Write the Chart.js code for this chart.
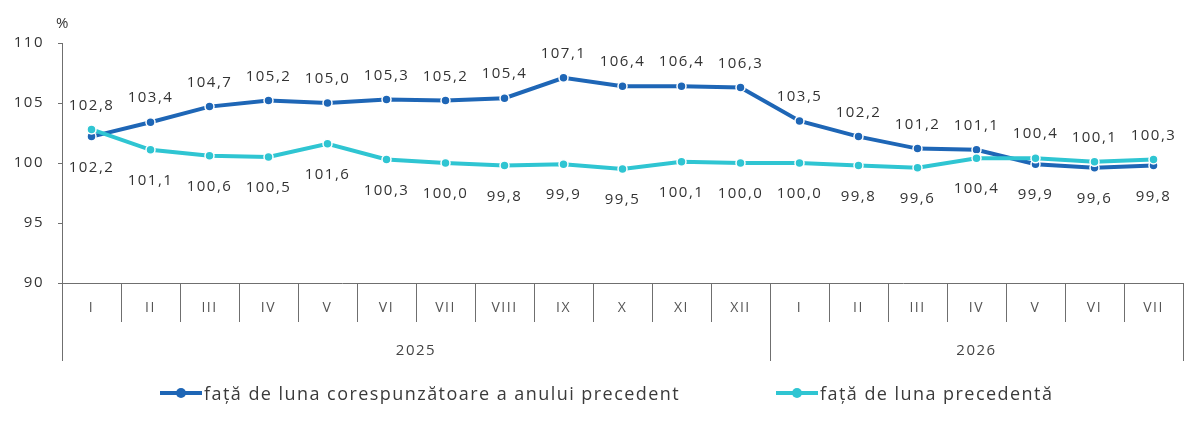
<!DOCTYPE html>
<html lang="ro">
<head>
<meta charset="utf-8">
<title>Indicii prețurilor de consum</title>
<script src="https://cdn.jsdelivr.net/npm/chart.js@4.4.1/dist/chart.umd.min.js"></script>
<style>
  html, body { margin: 0; padding: 0; background: #fff; }
  .wrap { position: relative; width: 1200px; height: 421px; }
  .legend { position: absolute; top: 380px; left: 0; width: 1200px; height: 26px;
            font: 18px "Open Sans", sans-serif; color: #3a3a3a; letter-spacing: 1.45px; }
  .item { position: absolute; top: 0; line-height: 26px; white-space: nowrap; }
  .mark { position: absolute; top: 11px; left: 0; width: 42px; height: 4px; }
  .mark i { position: absolute; left: 16px; top: -3px; width: 10px; height: 10px; border-radius: 50%; }
  .item span.t { margin-left: 44px; }
</style>
</head>
<body>
<div class="wrap">
  <canvas id="cpiChart" width="1200" height="421"></canvas>
  <div class="legend" id="legend"></div>
</div>
<script>
// ===== DATA =====
const months = ['I','II','III','IV','V','VI','VII','VIII','IX','X','XI','XII','I','II','III','IV','V','VI','VII'];
const years = ['2025', '2026'];
const monthsPerYear = [12, 7];
const yoyValues = [102.2,103.4,104.7,105.2,105.0,105.3,105.2,105.4,107.1,106.4,106.4,106.3,103.5,102.2,101.2,101.1,99.9,99.6,99.8];
const momValues = [102.8,101.1,100.6,100.5,101.6,100.3,100.0,99.8,99.9,99.5,100.1,100.0,100.0,99.8,99.6,100.4,100.4,100.1,100.3];
const seriesNames = ['față de luna corespunzătoare a anului precedent', 'față de luna precedentă'];
const yMin = 90, yMax = 110, yStep = 5;
const unitLabel = '%';

const BLUE = '#1e66b6';
const CYAN = '#2fc5d2';
const TXT = '#333333';

// ===== PLUGINS =====
const letterSpacing = {
  id: 'letterSpacing',
  beforeDraw(chart) { chart.ctx.letterSpacing = '1.5px'; }
};

// data labels: the higher series of the two gets its label above, the lower one below
const pointLabels = {
  id: 'pointLabels',
  afterDatasetsDraw(chart) {
    const ctx = chart.ctx;
    const sets = chart.data.datasets;
    ctx.save();
    ctx.font = '15px "Open Sans", sans-serif';
    ctx.fillStyle = TXT;
    ctx.textAlign = 'center';
    ctx.textBaseline = 'middle';
    sets.forEach((ds, di) => {
      const meta = chart.getDatasetMeta(di);
      const other = sets[1 - di].data;
      meta.data.forEach((pt, i) => {
        const above = ds.data[i] > other[i];
        const y = above ? pt.y - 24 : pt.y + 31;
        ctx.fillText(ds.data[i].toFixed(1).replace('.', ','), pt.x, y);
      });
    });
    ctx.restore();
  }
};

// month dividers, year row and the "%" unit
const axisExtras = {
  id: 'axisExtras',
  afterDraw(chart) {
    const ctx = chart.ctx;
    const x = chart.scales.x;
    const area = chart.chartArea;
    const half = (x.getPixelForValue(1) - x.getPixelForValue(0)) / 2;
    const base = area.bottom;
    ctx.save();
    ctx.strokeStyle = '#6f6f6f';
    ctx.lineWidth = 1;
    // short dividers between months
    for (let i = 1; i < months.length; i++) {
      const px = Math.round(x.getPixelForValue(i) - half) + 0.5;
      ctx.beginPath(); ctx.moveTo(px, base); ctx.lineTo(px, base + 39); ctx.stroke();
    }
    // long dividers between years + year labels
    ctx.font = '15px "Open Sans", sans-serif';
    ctx.fillStyle = '#444';
    ctx.textAlign = 'center';
    ctx.textBaseline = 'middle';
    let start = 0;
    const edges = [0];
    monthsPerYear.forEach(n => { start += n; edges.push(start); });
    edges.forEach(e => {
      const px = Math.round(x.getPixelForValue(e) - half) + 0.5;
      ctx.beginPath(); ctx.moveTo(px, base); ctx.lineTo(px, base + 78); ctx.stroke();
    });
    years.forEach((yr, k) => {
      const a = x.getPixelForValue(edges[k]) - half;
      const b = x.getPixelForValue(edges[k + 1]) - half;
      ctx.fillText(yr, (a + b) / 2, base + 68);
    });
    // unit
    ctx.font = '15px "Open Sans", sans-serif';
    ctx.fillStyle = TXT;
    ctx.fillText(unitLabel, area.left + 1, area.top - 19);
    ctx.restore();
  }
};

// ===== CHART =====
document.addEventListener('DOMContentLoaded', function () {
  Chart.defaults.font.family = '"Open Sans", sans-serif';
  Chart.defaults.color = TXT;

  const el = document.getElementById('cpiChart');
  new Chart(el, {
    type: 'line',
    data: {
      labels: months,
      datasets: [
        {
          label: seriesNames[0], data: yoyValues, order: 1,
          borderColor: BLUE, backgroundColor: BLUE, borderWidth: 4,
          pointRadius: 4.5, pointBackgroundColor: BLUE, pointBorderColor: '#fff', pointBorderWidth: 1.5,
          tension: 0
        },
        {
          label: seriesNames[1], data: momValues, order: 0,
          borderColor: CYAN, backgroundColor: CYAN, borderWidth: 4,
          pointRadius: 4.5, pointBackgroundColor: CYAN, pointBorderColor: '#fff', pointBorderWidth: 1.5,
          tension: 0
        }
      ]
    },
    options: {
      responsive: false, animation: false,
      layout: { padding: { top: 43, right: 17, left: 0, bottom: 58 } },
      plugins: { legend: { display: false }, tooltip: { enabled: false } },
      scales: {
        x: {
          offset: true,
          grid: { display: false },
          border: { display: true, color: '#6f6f6f', width: 1 },
          ticks: { color: '#555', font: { size: 14 }, padding: 9, maxRotation: 0, autoSkip: false },
          afterFit(s) { s.height = 80; }
        },
        y: {
          min: yMin, max: yMax,
          grid: { drawOnChartArea: false, drawTicks: true, tickLength: 4, color: '#6f6f6f' },
          border: { display: true, color: '#6f6f6f', width: 1 },
          ticks: { stepSize: yStep, padding: 14, color: TXT, font: { size: 15 } },
          afterFit(s) { s.width = 62; }
        }
      }
    },
    plugins: [letterSpacing, pointLabels, axisExtras]
  });

  // ===== LEGEND =====
  const legend = document.getElementById('legend');
  [[seriesNames[0], BLUE, 160], [seriesNames[1], CYAN, 776]].forEach(([name, col, left]) => {
    const it = document.createElement('div');
    it.className = 'item';
    it.style.left = left + 'px';
    it.innerHTML = '<span class="mark" style="background:' + col + '"><i style="background:' + col + '"></i></span><span class="t"></span>';
    it.querySelector('.t').textContent = name;
    legend.appendChild(it);
  });
});
</script>
</body>
</html>
